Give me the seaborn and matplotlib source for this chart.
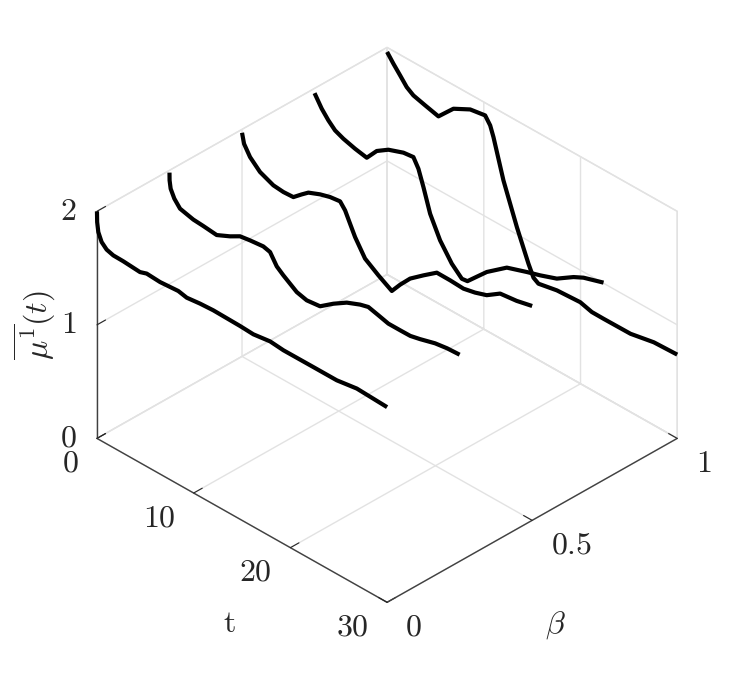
import matplotlib
matplotlib.use('Agg')
import matplotlib.pyplot as plt
import numpy as np
import seaborn as sns

betas = [0, 0.25, 0.5, 0.75, 1]

t_0 = [0, 0.02, 0.14, 0.48, 1.0, 1.69, 2.72, 4.45, 5.14, 6.52, 8.41, 9.28, 10.66, 12.03, 14.8, 16.17, 17.9, 19.28,
       22.4, 24.8, 26.87, 30]
mu_0 = [2.0, 1.906, 1.824, 1.753, 1.711, 1.693, 1.691, 1.679, 1.699, 1.691, 1.703, 1.686, 1.7, 1.707, 1.702, 1.695,
        1.716, 1.704, 1.705, 1.705, 1.732, 1.719]

t_1 = [0, 0.01, 0.12, 0.5, 1.09, 2.46, 3.5, 4.88, 6.26, 7.29, 8.33, 9.7, 10.4, 11.09, 11.77, 13.16, 14.19, 15.57,
       16.95, 18.33, 19.71, 20.56, 21.6, 22.63, 23.85, 24.9, 25.9, 27.46, 28.7, 30]
mu_1 = [1.98, 1.912, 1.844, 1.775, 1.715, 1.685, 1.678, 1.665, 1.72, 1.77, 1.784, 1.797, 1.781, 1.688, 1.642, 1.561,
        1.538, 1.552, 1.641, 1.717, 1.766, 1.786, 1.763, 1.739, 1.739, 1.74, 1.76, 1.798, 1.814, 1.82]

t_2 = [0, 0.21, 0.83, 1.86, 3.24, 4.28, 5.31, 6.17, 6.86, 8.07, 9.1, 10.14, 10.66, 11.17, 11.69, 12.72, 14.1, 15.49,
       16.35, 17.38, 18.76, 20.14, 21.52, 22.9, 24.1, 25.3, 26.69, 28.4, 30]
mu_2 = [1.97, 1.883, 1.796, 1.714, 1.663, 1.654, 1.659, 1.724, 1.773, 1.816, 1.842, 1.854, 1.799, 1.707, 1.614, 1.474,
        1.393, 1.322, 1.419, 1.522, 1.617, 1.707, 1.706, 1.699, 1.722, 1.757, 1.838, 1.856, 1.888]

t_3 = [0, 0.74, 1.43, 2.12, 2.98, 4.19, 5.4, 6.43, 7.63, 9.19, 10.22, 10.74, 11.26, 11.95, 12.98, 14.19, 15.23, 15.81,
       16.78, 17.81, 19.88, 21.95, 23.33, 25.05, 26.78, 27.81, 29.88]
mu_3 = [1.958, 1.857, 1.787, 1.732, 1.7, 1.67, 1.649, 1.758, 1.827, 1.876, 1.887, 1.809, 1.672, 1.471, 1.286, 1.139,
        1.056, 1.063, 1.149, 1.24, 1.378, 1.439, 1.476, 1.53, 1.627, 1.671, 1.727]

t_4 = [0, 0.65, 1.34, 2.03, 2.72, 3.93, 5.31, 6.17, 6.86, 8.59, 10.14, 10.66, 11.0, 12.03, 13.42, 14.62, 15.14, 15.65,
       17.56, 19.97, 21.17, 22.38, 25.17, 27.58, 30]
mu_4 = [1.96, 1.888, 1.819, 1.748, 1.708, 1.679, 1.648, 1.727, 1.79, 1.867, 1.889, 1.826, 1.739, 1.408, 1.063, 0.798,
        0.7, 0.672, 0.705, 0.717, 0.688, 0.687, 0.689, 0.73, 0.738]

curves = [(t_0, mu_0), (t_1, mu_1), (t_2, mu_2), (t_3, mu_3), (t_4, mu_4)]

t_ticks = [0, 10, 20, 30]
beta_ticks = [0, 0.5, 1]
mu_ticks = [0, 1, 2]

sns.set_theme(style='white', rc={'mathtext.fontset': 'cm', 'xtick.bottom': True, 'ytick.left': True})
line_color = sns.color_palette(['#000000'])[0]
grid_color = '#e2e2e2'
axis_color = '#404040'
label_color = '#262626'

fig = plt.figure(figsize=(7.47, 6.74), dpi=100)
ax = fig.add_axes([0.006, 0.0045, 1.0, 1.0], projection='3d')
ax.set_proj_type('ortho')
ax.view_init(elev=34.4, azim=-45)
ax.set_box_aspect((410, 410, 275), zoom=0.925)

for beta, (t, mu) in zip(betas, curves):
    ax.plot(t, np.full(len(t), beta), mu, color=line_color, lw=3, solid_capstyle='butt')

ax.set_xlim(0, 30)
ax.set_ylim(0, 1)
ax.set_zlim(0, 2)
ax.set_xticks(t_ticks, [f'${v}$' for v in t_ticks], fontsize=23, color=label_color)
ax.set_yticks(beta_ticks, [f'${v}$' for v in beta_ticks], fontsize=23, color=label_color)
ax.set_zticks(mu_ticks, [f'${v}$' for v in mu_ticks], fontsize=23, color=label_color)
ax.zaxis.set_ticks_position('lower')

for axis in (ax.xaxis, ax.yaxis, ax.zaxis):
    axis.set_pane_color((1, 1, 1, 1))
    axis.pane.set_edgecolor(grid_color)
    axis.line.set_color(axis_color)
    axis.line.set_linewidth(1.0)
    axis._axinfo['grid'].update(color=grid_color, linewidth=1.0, linestyle='-')
    axis._axinfo['tick'].update(inward_factor=0.0, outward_factor=0.37, color=axis_color)
    axis._axinfo['tick']['linewidth'] = {True: 0.8, False: 0.5}
ax.grid(True)
ax.tick_params(axis='x', pad=8)
ax.tick_params(axis='y', pad=8)
ax.tick_params(axis='z', pad=1)

# matlab style anchoring of the tick labels
for lab in ax.get_xticklabels():
    lab.set_ha('right')
    lab.set_va('center')
for lab in ax.get_yticklabels():
    lab.set_ha('left')
    lab.set_va('center')
for lab in ax.get_zticklabels():
    lab.set_ha('right')
    lab.set_va('center')

fig.text(229 / 747, 1 - 624 / 674, r'$\mathrm{t}$', fontsize=23, color=label_color, ha='center', va='center')
fig.text(555 / 747, 1 - 625 / 674, r'$\beta$', fontsize=23, color=label_color, ha='center', va='center')
fig.text(35 / 747, 1 - 325 / 674, r'$\overline{\mu^{1}}(t)$', fontsize=23, color=label_color,
         rotation=90, ha='center', va='center')

fig.savefig('out.png', dpi=100)
